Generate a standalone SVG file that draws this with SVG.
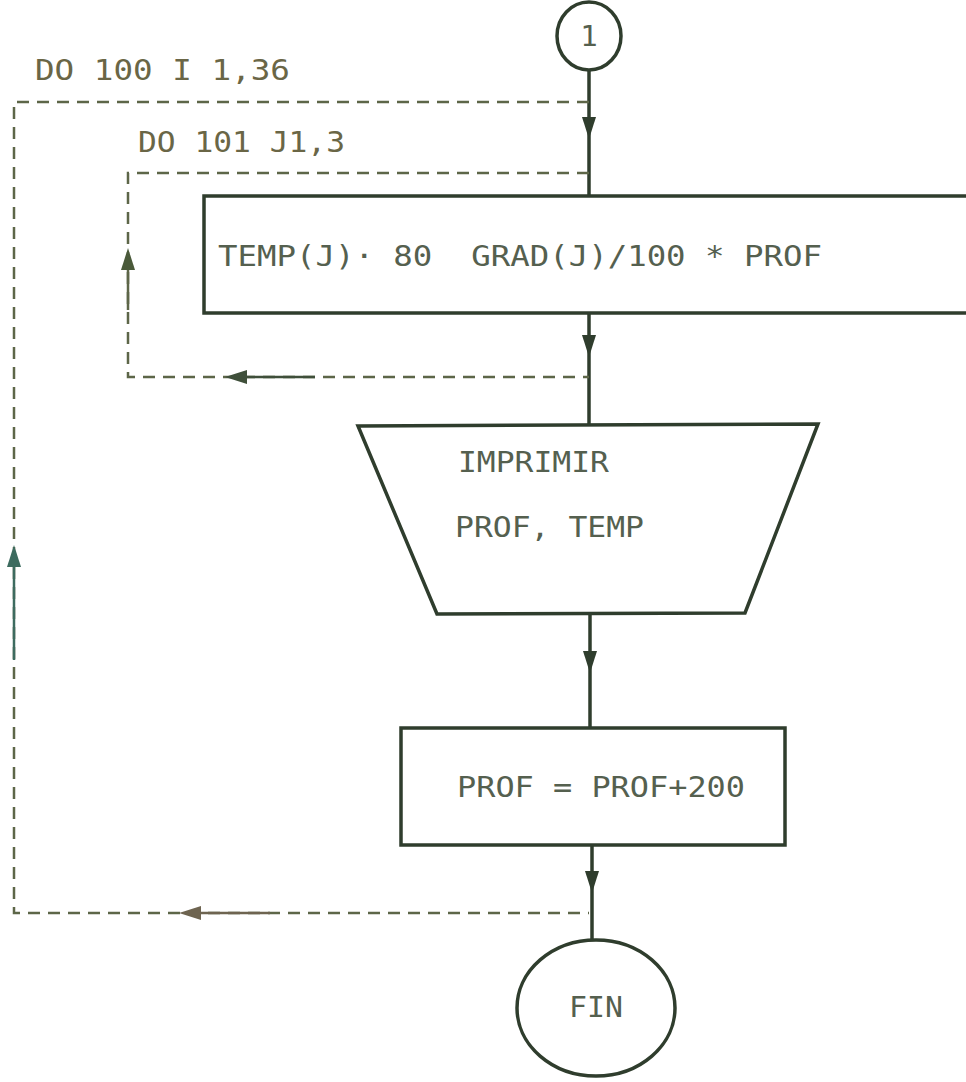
<svg xmlns="http://www.w3.org/2000/svg" xmlns:xlink="http://www.w3.org/1999/xlink" width="966" height="1082" viewBox="0 0 966 1082">
<style>
.shape{fill:#ffffff;stroke:#2f3d2d;stroke-width:3.5}
.flow{fill:none;stroke:#2f3d2d;stroke-width:3.5}
.dash{fill:none;stroke:#5d6648;stroke-width:2.5;stroke-dasharray:12,8}
.solid{fill:none;stroke-width:2.5}
.t{font-family:"DejaVu Sans Mono","Liberation Mono",monospace;font-size:29px;fill:#55604f;white-space:pre}
.lbl{font-family:"DejaVu Sans Mono","Liberation Mono",monospace;font-size:29px;fill:#6a6646;white-space:pre}
</style>
<defs>
<path id="ah" d="M-7,-11 L7,-11 L0,11 Z"/>
</defs>
<rect width="966" height="1082" fill="#ffffff"/>
<g id="connectors">
<path class="flow" d="M589,71 V196"/>
<path class="flow" d="M589,313 V426"/>
<path class="flow" d="M590,613 V728"/>
<path class="flow" d="M592,845 V940"/>
<use xlink:href="#ah" fill="#2f3d2d" transform="translate(589,128)"/>
<use xlink:href="#ah" fill="#2f3d2d" transform="translate(589,346)"/>
<use xlink:href="#ah" fill="#2f3d2d" transform="translate(590,662)"/>
<use xlink:href="#ah" fill="#2f3d2d" transform="translate(592,882)"/>
<path class="dash" d="M589,102 H14 V913 H589"/>
<path class="solid" stroke="#3d6b5f" d="M14,560 V660"/>
<use xlink:href="#ah" fill="#3d6b5f" transform="translate(14,556) rotate(180)"/>
<path class="solid" stroke="#6e6450" d="M190,913 H270"/>
<use xlink:href="#ah" fill="#6e6450" transform="translate(190,913) rotate(90)"/>
<path class="dash" d="M589,173 H128 V377 H589"/>
<path class="solid" stroke="#5d6648" d="M128,262 V310"/>
<use xlink:href="#ah" fill="#4a5a3a" transform="translate(128,259) rotate(180)"/>
<path class="solid" stroke="#3f4f3a" d="M236,377 H315"/>
<use xlink:href="#ah" fill="#3f4f3a" transform="translate(236,377) rotate(90)"/>
</g>
<g id="label-do100"><text class="lbl" x="35" y="80" textLength="255" lengthAdjust="spacingAndGlyphs">DO 100 I 1,36</text></g>
<g id="label-do101"><text class="lbl" x="138" y="152" textLength="207" lengthAdjust="spacingAndGlyphs">DO 101 J1,3</text></g>
<g id="node-start">
<ellipse class="shape" cx="589" cy="36" rx="32" ry="34"/>
<text class="t" x="589" y="46" text-anchor="middle" font-size="26">1</text>
</g>
<g id="node-temp">
<rect class="shape" x="204" y="196" width="780" height="117"/>
<text class="t" x="218" y="266" textLength="604" lengthAdjust="spacingAndGlyphs">TEMP(J)· 80  GRAD(J)/100 * PROF</text>
</g>
<g id="node-print">
<polygon class="shape" points="358,426 818,424 745,613 437,614"/>
<text class="t" x="458" y="472" textLength="151" lengthAdjust="spacingAndGlyphs">IMPRIMIR</text>
<text class="t" x="455" y="537" textLength="189" lengthAdjust="spacingAndGlyphs">PROF, TEMP</text>
</g>
<g id="node-prof">
<rect class="shape" x="401" y="728" width="384" height="117"/>
<text class="t" x="457" y="797" textLength="288" lengthAdjust="spacingAndGlyphs">PROF = PROF+200</text>
</g>
<g id="node-fin">
<ellipse class="shape" cx="596" cy="1008" rx="79" ry="68"/>
<text class="t" x="569" y="1017" textLength="54" lengthAdjust="spacingAndGlyphs">FIN</text>
</g>
</svg>
